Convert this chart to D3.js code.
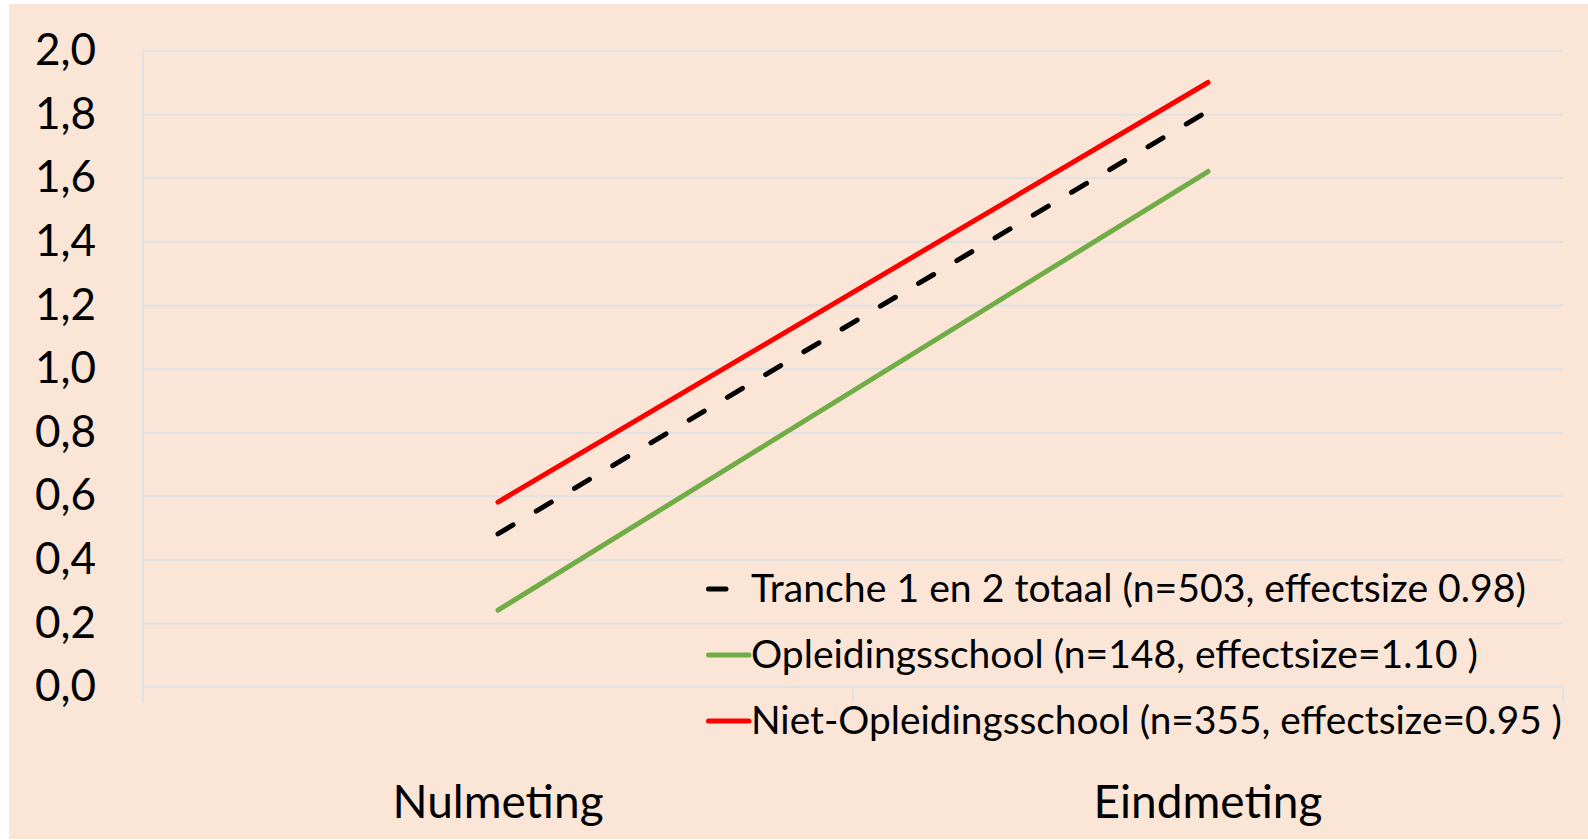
<!DOCTYPE html>
<html>
<head>
<meta charset="utf-8">
<script src="https://cdn.jsdelivr.net/npm/d3@7"></script>
<style>
  body { margin: 0; background: #fff; }
  text { font-family: Lato, "Open Sans", sans-serif; fill: #000; }
</style>
</head>
<body>
<svg id="chart" width="1588" height="840"></svg>
<script>
// data
const categories = ["Nulmeting", "Eindmeting"];
const trancheTotaal = [0.48, 1.81];
const opleidingsschool = [0.24, 1.62];
const nietOpleidingsschool = [0.58, 1.90];
const yTicks = [0, 0.2, 0.4, 0.6, 0.8, 1.0, 1.2, 1.4, 1.6, 1.8, 2.0];
const legendLabels = [
  "Tranche 1 en 2 totaal (n=503, effectsize 0.98)",
  "Opleidingsschool (n=148, effectsize=1.10 )",
  "Niet-Opleidingsschool (n=355, effectsize=0.95 )"
];

// styles, same order as legendLabels
const seriesColors = ["#000000", "#70AD47", "#FF0000"];
const seriesDash = ["17.5,27", null, null];
const legendWidths = [775, 727, 811];

const series = [trancheTotaal, opleidingsschool, nietOpleidingsschool];

const svg = d3.select("#chart");

// peach chart area
svg.append("rect")
  .attr("x", 9).attr("y", 4)
  .attr("width", 1579).attr("height", 835)
  .attr("fill", "#FBE5D6");

const plotLeft = 143, plotRight = 1563;
const y = d3.scaleLinear().domain([0, 2]).range([686.5, 50.7]);
const x = d3.scaleBand().domain(categories).range([plotLeft, plotRight]).paddingInner(0);
const bw = x.bandwidth();

const gridColor = "#DFE1E5";
const nl = d3.formatLocale({decimal: ",", thousands: ".", grouping: [3], currency: ["€", ""]});
const fmt = nl.format(".1f");

// gridlines
let grid = svg.append("g")
  .attr("transform", "translate(" + plotLeft + ",0)")
  .call(d3.axisLeft(y).tickValues(yTicks).tickSize(-(plotRight - plotLeft)).tickFormat(""));
grid.select(".domain").remove();
grid.selectAll("line").attr("stroke", gridColor).attr("stroke-width", 2);

// vertical axis line + category boundary ticks
svg.append("line")
  .attr("x1", plotLeft).attr("x2", plotLeft)
  .attr("y1", y(2)).attr("y2", y(0) + 16)
  .attr("stroke", gridColor).attr("stroke-width", 2);

let bounds = [plotLeft].concat(categories.map(c => x(c) + bw));
svg.selectAll(".xtick")
  .data(bounds)
  .enter().append("line")
  .attr("class", "xtick")
  .attr("x1", d => d).attr("x2", d => d)
  .attr("y1", y(0)).attr("y2", y(0) + 16)
  .attr("stroke", gridColor).attr("stroke-width", 2);

// y labels
let yAxis = svg.append("g")
  .attr("transform", "translate(" + plotLeft + ",0)")
  .call(d3.axisLeft(y).tickValues(yTicks).tickSize(0).tickPadding(47).tickFormat(fmt));
yAxis.select(".domain").remove();
yAxis.selectAll("text")
  .style("font-family", "Lato, sans-serif")
  .style("font-size", "44px")
  .attr("fill", "#000");

// x labels
let xAxis = svg.append("g")
  .attr("transform", "translate(0," + y(0) + ")")
  .call(d3.axisBottom(x).tickSize(0).tickPadding(99));
xAxis.select(".domain").remove();
xAxis.selectAll("text")
  .style("font-family", "Lato, sans-serif")
  .style("font-size", "46px")
  .attr("fill", "#000");

// lines
const line = d3.line()
  .x((d, i) => x(categories[i]) + bw / 2)
  .y(d => y(d));

svg.selectAll(".series")
  .data(series)
  .enter().append("path")
  .attr("class", "series")
  .attr("d", line)
  .attr("fill", "none")
  .attr("stroke", (d, i) => seriesColors[i])
  .attr("stroke-width", 5)
  .attr("stroke-linecap", "round")
  .attr("stroke-dasharray", (d, i) => seriesDash[i]);

// legend
const legend = svg.append("g").attr("transform", "translate(706,589)");
const rows = legend.selectAll(".row")
  .data(legendLabels)
  .enter().append("g")
  .attr("class", "row")
  .attr("transform", (d, i) => "translate(0," + (i * 66) + ")");

rows.append("line")
  .attr("x1", 2.5).attr("x2", 43)
  .attr("y1", 0).attr("y2", 0)
  .attr("stroke", (d, i) => seriesColors[i])
  .attr("stroke-width", 5)
  .attr("stroke-linecap", "round")
  .attr("stroke-dasharray", (d, i) => seriesDash[i]);

rows.append("text")
  .attr("x", 45)
  .attr("y", 13)
  .style("font-size", "39px")
  .attr("textLength", (d, i) => legendWidths[i])
  .attr("lengthAdjust", "spacingAndGlyphs")
  .text(d => d);
</script>
</body>
</html>
